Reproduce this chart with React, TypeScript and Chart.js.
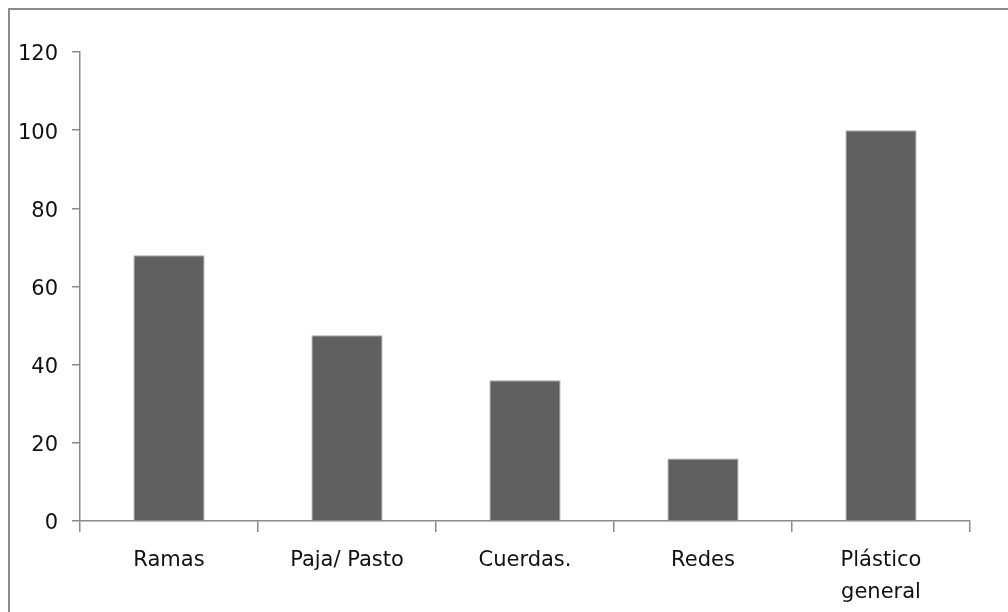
import React, { useEffect, useRef } from 'react';
import { Chart, registerables } from 'chart.js';

Chart.register(...registerables);

const categories: (string | string[])[] = ['Ramas', 'Paja/ Pasto', 'Cuerdas.', 'Redes', ['Plástico', 'general']];
const values: number[] = [68, 47.5, 36, 16, 100];
const yMin = 0;
const yMax = 120;
const yStep = 20;

export default function App() {
  const ref = useRef<HTMLCanvasElement>(null);
  useEffect(() => {
    const font = { family: '"DejaVu Sans", sans-serif', size: 21, lineHeight: 1.55 };
    const chart = new Chart(ref.current!, {
      type: 'bar',
      data: {
        labels: categories,
        datasets: [
          {
            data: values,
            backgroundColor: '#606060',
            borderColor: '#a8a8a8',
            borderWidth: 1,
            categoryPercentage: 1,
            barPercentage: 0.4,
          },
        ],
      },
      options: {
        responsive: false,
        animation: false,
        layout: { padding: { top: 52, right: 38, left: 0, bottom: 0 } },
        plugins: { legend: { display: false }, tooltip: { enabled: false } },
        scales: {
          x: {
            offset: true,
            grid: { offset: true, drawOnChartArea: false, drawTicks: true, tickLength: 11, color: '#8a8a8a', lineWidth: 1.5 },
            border: { color: '#8a8a8a', width: 1.5 },
            ticks: { font, color: '#111111', padding: 12, maxRotation: 0, autoSkip: false },
            afterFit: (s: any) => { s.height = 91; },
          },
          y: {
            min: yMin,
            max: yMax,
            grid: { drawOnChartArea: false, drawTicks: true, tickLength: 8, color: '#8a8a8a', lineWidth: 1.5 },
            border: { color: '#8a8a8a', width: 1.5 },
            ticks: { stepSize: yStep, font, color: '#111111', padding: 14, labelOffset: 3 },
            afterFit: (s: any) => { s.width = 80; },
          },
        },
      },
    } as any);
    return () => chart.destroy();
  }, []);
  return (
    <div style={{ position: 'fixed', left: 0, top: 0, width: 1008, height: 612, overflow: 'hidden', background: '#fff' }}>
      <div style={{ position: 'absolute', left: 8, top: 8, width: 1100, height: 700, borderTop: '2px solid #8c8c8c', borderLeft: '2px solid #8c8c8c' }} />
      <canvas ref={ref} width={1008} height={612} style={{ position: 'absolute', left: 0, top: 0 }} />
    </div>
  );
}
